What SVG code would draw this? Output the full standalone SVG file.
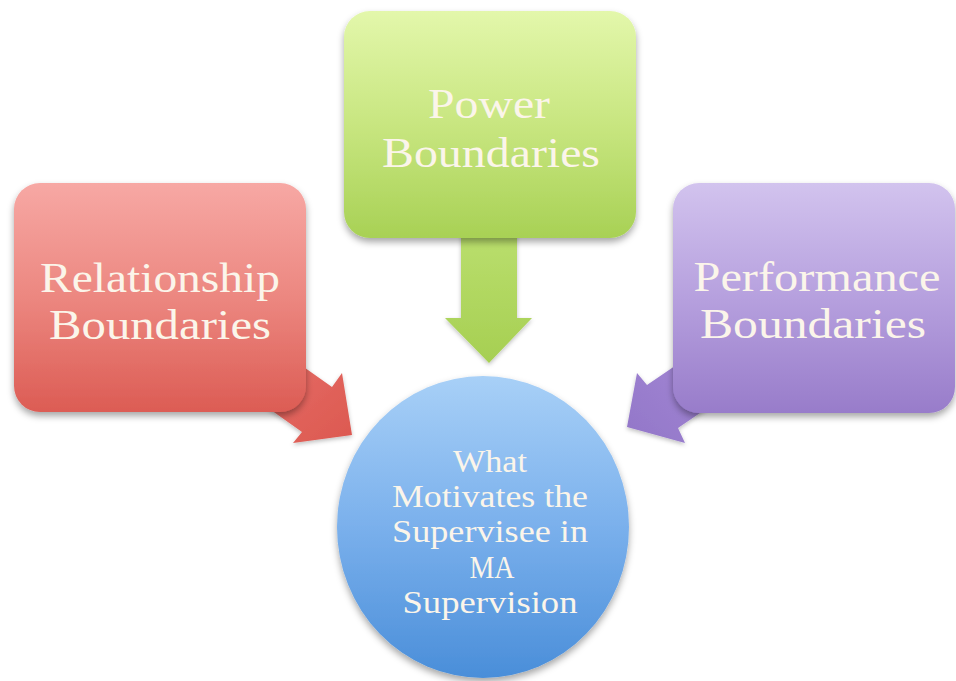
<svg xmlns="http://www.w3.org/2000/svg" width="956" height="681" viewBox="0 0 956 681">
<defs>
<style>
.lbl{font-family:"Liberation Serif","Times New Roman",serif;fill:#FBF5EA;text-anchor:middle}
.big{font-size:42px}
.small{font-size:31px}
</style>
<filter id="sh" x="-10%" y="-10%" width="120%" height="125%">
<feDropShadow dx="0" dy="4" stdDeviation="3.5" flood-color="#000" flood-opacity="0.35"/>
</filter>
<filter id="shA" x="-20%" y="-20%" width="140%" height="140%">
<feDropShadow dx="0" dy="2" stdDeviation="2" flood-color="#000" flood-opacity="0.25"/>
</filter>
<linearGradient id="gRed" x1="0" y1="0" x2="0" y2="1">
<stop offset="0" stop-color="#F7A8A4"/><stop offset="0.5" stop-color="#EC8780"/><stop offset="1" stop-color="#DC5C54"/>
</linearGradient>
<linearGradient id="gGreen" x1="0" y1="0" x2="0" y2="1">
<stop offset="0" stop-color="#E3F7AB"/><stop offset="0.5" stop-color="#C8E680"/><stop offset="1" stop-color="#A8D155"/>
</linearGradient>
<linearGradient id="gPurple" x1="0" y1="0" x2="0" y2="1">
<stop offset="0" stop-color="#D2C3EE"/><stop offset="0.5" stop-color="#B6A0DE"/><stop offset="1" stop-color="#987CCA"/>
</linearGradient>
<linearGradient id="gBlue" x1="0" y1="0" x2="0" y2="1">
<stop offset="0" stop-color="#A8D0F7"/><stop offset="0.5" stop-color="#7AB0EC"/><stop offset="1" stop-color="#4A8ED9"/>
</linearGradient>
<linearGradient id="aRed" x1="0" y1="0" x2="1" y2="1">
<stop offset="0" stop-color="#E8736C"/><stop offset="1" stop-color="#DC5850"/>
</linearGradient>
<linearGradient id="aGreen" x1="0" y1="0" x2="0" y2="1">
<stop offset="0" stop-color="#BCE070"/><stop offset="1" stop-color="#A6CF52"/>
</linearGradient>
<linearGradient id="aPurple" x1="1" y1="0" x2="0" y2="1">
<stop offset="0" stop-color="#A88CD8"/><stop offset="1" stop-color="#9276C8"/>
</linearGradient>
</defs>
<rect width="956" height="681" fill="#FFFFFF"/>
<g id="connectors" filter="url(#shA)">
<polygon id="arrow-relationship" fill="url(#aRed)" points="267,341 332,387 342,373 352,435 293,443 302,432 237,386"/>
<polygon id="arrow-power" fill="url(#aGreen)" points="461,220 517,220 517,318 532,318 489,363 445,318 461,318"/>
<polygon id="arrow-performance" fill="url(#aPurple)" points="713,340 647,385 637,373 627,427 685,443 678,428 744,383"/>
</g>
<g id="node-relationship">
<rect x="14" y="183" width="292" height="229" rx="26" fill="url(#gRed)" filter="url(#sh)"/>
<text class="lbl big" x="160" y="292" textLength="240" lengthAdjust="spacingAndGlyphs">Relationship</text>
<text class="lbl big" x="160" y="339" textLength="222" lengthAdjust="spacingAndGlyphs">Boundaries</text>
</g>
<g id="node-power">
<rect x="344" y="11" width="292" height="227" rx="26" fill="url(#gGreen)" filter="url(#sh)"/>
<text class="lbl big" x="489" y="118" textLength="122" lengthAdjust="spacingAndGlyphs">Power</text>
<text class="lbl big" x="491" y="167" textLength="218" lengthAdjust="spacingAndGlyphs">Boundaries</text>
</g>
<g id="node-performance">
<rect x="673" y="183" width="282" height="230" rx="26" fill="url(#gPurple)" filter="url(#sh)"/>
<text class="lbl big" x="817" y="291" textLength="247" lengthAdjust="spacingAndGlyphs">Performance</text>
<text class="lbl big" x="813" y="338" textLength="226" lengthAdjust="spacingAndGlyphs">Boundaries</text>
</g>
<g id="node-center">
<ellipse cx="483" cy="527" rx="146" ry="151" fill="url(#gBlue)" filter="url(#sh)"/>
<text class="lbl small" x="490" y="472" textLength="74" lengthAdjust="spacingAndGlyphs">What</text>
<text class="lbl small" x="490" y="507" textLength="196" lengthAdjust="spacingAndGlyphs">Motivates the</text>
<text class="lbl small" x="490" y="542" textLength="196" lengthAdjust="spacingAndGlyphs">Supervisee in</text>
<text class="lbl small" x="492" y="578" textLength="45" lengthAdjust="spacingAndGlyphs">MA</text>
<text class="lbl small" x="490" y="613" textLength="175" lengthAdjust="spacingAndGlyphs">Supervision</text>
</g>
</svg>
